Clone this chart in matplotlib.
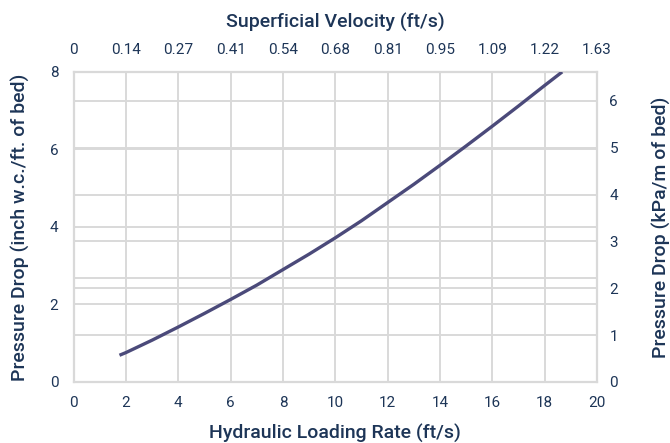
import matplotlib.pyplot as plt
import numpy as np

plt.rcParams['font.family'] = ['Roboto', 'DejaVu Sans']

# data
hlr = [1.75, 2, 3, 4, 5, 6, 7, 8, 9, 10, 11, 12, 13, 14, 15, 16, 17, 18, 18.67]  # ft/s
dp_in = [0.69, 0.76, 1.08, 1.42, 1.77, 2.13, 2.50, 2.90, 3.30, 3.72, 4.16,
         4.63, 5.10, 5.59, 6.09, 6.60, 7.12, 7.65, 8.0]                      # inch w.c./ft

x_ticks = [0, 2, 4, 6, 8, 10, 12, 14, 16, 18, 20]
top_labels = ['0', '0.14', '0.27', '0.41', '0.54', '0.68', '0.81', '0.95',
              '1.09', '1.22', '1.63']
left_ticks = [0, 2, 4, 6, 8]
right_ticks = [0, 1, 2, 3, 4, 5, 6]
kpa_per_in = 0.827          # kPa/m per inch w.c./ft as drawn
extra_grid = [2.69]         # stray grid line in the original

txt = '#1d3557'
grid = '#d9d9d9'
line_c = '#4b4a7a'

fig = plt.figure(figsize=(6.7, 4.43), dpi=100)
ax = fig.add_axes([0.110, 0.1377, 0.781, 0.700])

ax.plot(hlr, dp_in, color=line_c, lw=2.4, solid_capstyle='butt', zorder=3)

ax.set_xlim(0, 20)
ax.set_ylim(0, 8)
ax.set_xticks(x_ticks)
ax.set_yticks(left_ticks)

# grid: left ticks, right ticks and the stray one
for v in x_ticks[1:-1]:
    ax.axvline(v, color=grid, lw=1.4, zorder=1)
for v in left_ticks[1:-1] + [r / kpa_per_in for r in right_ticks[1:]] + extra_grid:
    ax.axhline(v, color=grid, lw=1.4, zorder=1)

for s in ax.spines.values():
    s.set_color(grid)
    s.set_linewidth(1.6)

ax.tick_params(length=0, labelsize=11, labelcolor=txt, pad=10)
ax.tick_params(axis='y', pad=11)
ax.set_xlabel('Hydraulic Loading Rate (ft/s)', fontsize=14, color=txt,
              fontweight='medium', labelpad=10)
ax.set_ylabel('Pressure Drop (inch w.c./ft. of bed)', fontsize=14, color=txt,
              fontweight='medium', labelpad=14)

top = ax.secondary_xaxis('top')
top.set_xticks(x_ticks)
top.set_xticklabels(top_labels)
top.tick_params(length=0, labelsize=11, labelcolor=txt, pad=11)
top.spines['top'].set_visible(False)
top.set_xlabel('Superficial Velocity (ft/s)', fontsize=14, color=txt,
               fontweight='medium', labelpad=11)

right = ax.secondary_yaxis('right', functions=(lambda v: v * kpa_per_in,
                                               lambda v: v / kpa_per_in))
right.set_yticks(right_ticks)
right.tick_params(length=0, labelsize=11, labelcolor=txt, pad=9)
right.spines['right'].set_visible(False)
right.set_ylabel('Pressure Drop (kPa/m of bed)', fontsize=14, color=txt,
                 fontweight='medium', labelpad=24)

fig.savefig('out.png', dpi=100)
